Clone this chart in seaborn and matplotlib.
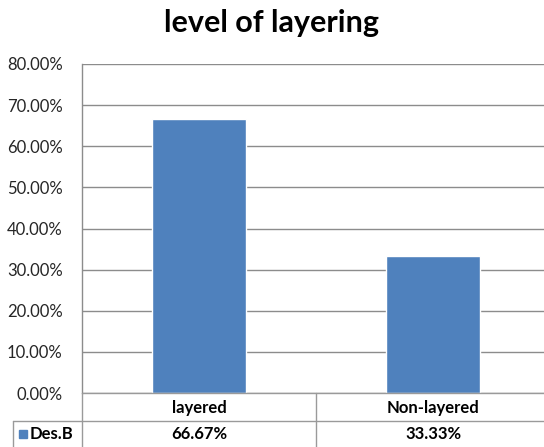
import matplotlib
matplotlib.use("Agg")
import matplotlib.pyplot as plt
from matplotlib.lines import Line2D
from matplotlib.patches import Rectangle
from matplotlib.ticker import FuncFormatter
import seaborn as sns
import pandas as pd

categories = ["layered", "Non-layered"]
values = [66.67, 33.33]
series_name = "Des.B"
title = "level of layering"

sns.set_theme(style="white")
plt.rcParams["font.family"] = ["Lato", "DejaVu Sans"]

W, H = 544, 447
fig = plt.figure(figsize=(W / 100, H / 100), dpi=100)

def fx(px):
    return px / W

def fy(py):
    return 1 - py / H

# plot area in pixel coordinates
left, right, top, bottom = 82, 550, 64, 393
ax = fig.add_axes([fx(left), fy(bottom), fx(right - left), (bottom - top) / H])

df = pd.DataFrame({"category": categories, "value": values})
bar_color = "#4F81BD"
sns.barplot(data=df, x="category", y="value", color=bar_color, width=0.4,
            saturation=1, ax=ax, zorder=3)

ax.set_ylim(0, 80)
ax.set_xlim(-0.5, 1.5)
ax.set_yticks(range(0, 81, 10))
ax.yaxis.set_major_formatter(FuncFormatter(lambda v, p: f"{v:.2f}%"))
ax.grid(axis="y", color="#8C8C8C", linewidth=1.0, zorder=0)
ax.grid(axis="x", visible=False)
ax.set_xlabel("")
ax.set_ylabel("")
for s in ["top", "right", "bottom"]:
    ax.spines[s].set_visible(False)
ax.spines["left"].set_color("#8C8C8C")
ax.spines["left"].set_linewidth(1.0)
ax.tick_params(axis="y", length=0, pad=14, labelsize=12, labelcolor="#262626")
ax.tick_params(axis="x", length=0, pad=5, labelsize=12, labelcolor="#000000")
for lbl in ax.get_xticklabels():
    lbl.set_fontweight("bold")

fig.text(0.5, fy(23), title, ha="center", va="center",
         fontsize=22, fontweight="bold", color="#000000")

# data table below the plot area
line_kw = dict(color="#9A9A9A", linewidth=1.0, transform=fig.transFigure)
row1_bottom = 421
row2_bottom = 447
mid = (left + right) / 2
fig.add_artist(Line2D([fx(left), fx(W)], [fy(bottom), fy(bottom)], **line_kw))
fig.add_artist(Line2D([fx(13), fx(W)], [fy(row1_bottom), fy(row1_bottom)], **line_kw))
fig.add_artist(Line2D([fx(left), fx(left)], [fy(bottom), fy(row2_bottom)], **line_kw))
fig.add_artist(Line2D([fx(mid), fx(mid)], [fy(bottom), fy(row2_bottom)], **line_kw))
fig.add_artist(Line2D([fx(13), fx(13)], [fy(row1_bottom), fy(row2_bottom)], **line_kw))

# legend key and series name
fig.add_artist(Rectangle((fx(19), fy(438)), fx(8), 8 / H, color=bar_color,
                         transform=fig.transFigure))
fig.text(fx(30), fy(434), series_name, ha="left", va="center",
         fontsize=12, fontweight="bold", color="#000000")

# value row aligned with the categories
for i, v in enumerate(values):
    xd = ax.transData.transform((i, 0))[0]
    xf = fig.transFigure.inverted().transform((xd, 0))[0]
    fig.text(xf, fy(434), f"{v:.2f}%", ha="center", va="center",
             fontsize=12, fontweight="bold", color="#000000")

fig.savefig("out.png", dpi=100)
